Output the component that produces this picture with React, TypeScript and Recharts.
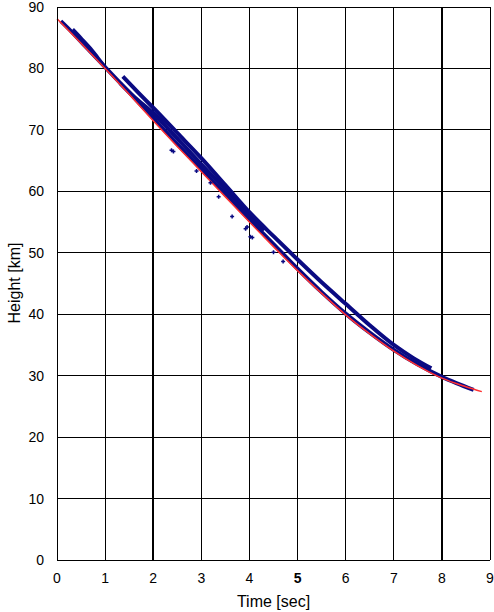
import {
  ComposedChart, Line, Scatter, XAxis, YAxis, CartesianGrid, ReferenceLine, Label,
} from 'recharts'

// time [sec], height [km]
const TIME_TICKS = [0, 1, 2, 3, 4, 5, 6, 7, 8, 9]
const HEIGHT_TICKS = [0, 10, 20, 30, 40, 50, 60, 70, 80, 90]
const THICK_TIMES = [2, 8]

const fitCurve: [number, number][] = [
  [0, 88.1], [0.5, 84.1], [1, 80.0], [1.5, 75.8], [2, 71.5], [2.5, 67.3], [3, 63.2],
  [3.5, 59.1], [4, 55.0], [4.5, 51.0], [5, 47.1], [5.5, 43.4], [6, 39.9], [6.5, 36.8],
  [7, 34.0], [7.5, 31.6], [8, 29.6], [8.5, 28.2], [8.83, 27.4],
]

const trackEarly: [number, number][] = [
  [0.33, 86.4], [0.5, 85.0], [0.7, 83.3], [0.85, 81.8], [1.0, 80.3],
]

const trackLower: [number, number][] = [
  [0.08, 87.7], [0.3, 86.0], [0.6, 83.5], [1.0, 80.2], [1.5, 76.1], [2.0, 71.9],
  [2.5, 67.7], [3.0, 63.6], [3.5, 59.5], [4.0, 55.4], [4.5, 51.4], [5.0, 47.4],
  [5.5, 43.6], [6.0, 40.1], [6.5, 37.0], [7.0, 34.2], [7.5, 31.8], [8.0, 29.8],
  [8.3, 28.8], [8.66, 27.7],
]

const trackMiddle: [number, number][] = [
  [1.31, 77.6], [1.6, 75.4], [2.0, 72.7], [2.5, 68.6], [3.0, 64.4], [3.5, 60.3],
  [4.0, 56.1], [4.3, 53.6],
]

const trackUpper: [number, number][] = [
  [1.37, 78.7], [1.7, 76.0], [2.0, 73.6], [2.5, 69.5], [3.0, 65.4], [3.5, 61.0],
  [4.0, 56.6], [4.5, 52.7], [5.0, 48.9], [5.5, 45.2], [6.0, 41.7], [6.5, 38.2],
  [7.0, 35.0], [7.4, 32.9], [7.78, 31.2],
]

const strayPoints: [number, number][] = [
  [2.38, 66.7], [2.42, 66.5], [3.19, 61.4], [3.36, 59.1], [3.64, 55.9], [3.92, 53.9],
  [3.95, 54.2], [4.02, 52.6], [4.06, 52.5], [4.5, 50.1], [2.9, 63.3], [4.7, 48.6],
]

const toRows = (pts: [number, number][]) => pts.map(([t, h]) => ({ t, h }))

const NAVY = '#0a0a82'
const FONT = '"Liberation Sans", Arial, sans-serif'

const XTick = (props: any) => {
  const { x, y, payload } = props
  return (
    <text x={x} y={y} dy={15} textAnchor="middle" fontFamily={FONT} fontSize={14}
      fontWeight={payload.value === 5 ? 'bold' : 'normal'} fill="#000">
      {payload.value}
    </text>
  )
}

const YTick = (props: any) => {
  const { x, y, payload } = props
  return (
    <text x={x} y={y} dx={-5} dy={5} textAnchor="end" fontFamily={FONT} fontSize={14} fill="#000">
      {payload.value}
    </text>
  )
}

const Plus = (props: any) => {
  const { cx, cy } = props
  return (
    <path d={`M${cx - 2},${cy}H${cx + 2}M${cx},${cy - 2}V${cy + 2}`} stroke={NAVY} strokeWidth={1.5} />
  )
}

export default function App() {
  const tracks = [trackLower, trackMiddle, trackUpper]
  return (
    <div style={{ width: 494, height: 612, background: '#fff' }}>
      <style>{`body{margin:0} .recharts-cartesian-grid line, .recharts-reference-line line, .recharts-cartesian-axis-line{shape-rendering:crispEdges}`}</style>
      <ComposedChart width={494} height={612} margin={{ top: 7, right: 4, bottom: 0, left: 0 }}>
        <CartesianGrid stroke="#000" strokeWidth={1} horizontalValues={HEIGHT_TICKS} verticalValues={TIME_TICKS} />
        {THICK_TIMES.map(t => (
          <ReferenceLine key={t} x={t} stroke="#000" strokeWidth={2.5} />
        ))}
        <XAxis type="number" dataKey="t" domain={[0, 9]} ticks={TIME_TICKS} interval={0}
          tickLine={false} axisLine={{ stroke: '#000' }} height={52} tick={<XTick />}>
          <Label content={() => (
            <text x={273.5} y={607} textAnchor="middle" fontFamily={FONT} fontSize={16} fill="#000">
              Time [sec]
            </text>
          )} />
        </XAxis>
        <YAxis type="number" dataKey="h" domain={[0, 90]} ticks={HEIGHT_TICKS} interval={0}
          tickLine={false} axisLine={{ stroke: '#000' }} width={57} tick={<YTick />}>
          <Label content={() => (
            <text x={20} y={283} transform="rotate(-90 20 283)" textAnchor="middle"
              fontFamily={FONT} fontSize={16} fill="#000">
              Height [km]
            </text>
          )} />
        </YAxis>
        <Line data={toRows(trackEarly)} dataKey="h" type="monotone" stroke={NAVY}
          strokeWidth={3} dot={false} isAnimationActive={false} />
        {tracks.map((tr, i) => (
          <Line key={i} data={toRows(tr)} dataKey="h" type="monotone" stroke={NAVY}
            strokeWidth={4} dot={false} isAnimationActive={false} />
        ))}
        <Scatter data={toRows(strayPoints)} dataKey="h" shape={<Plus />} isAnimationActive={false} />
        <Line data={toRows(fitCurve)} dataKey="h" type="monotone" stroke="#ff3030"
          strokeWidth={1.5} dot={false} isAnimationActive={false} />
      </ComposedChart>
    </div>
  )
}
